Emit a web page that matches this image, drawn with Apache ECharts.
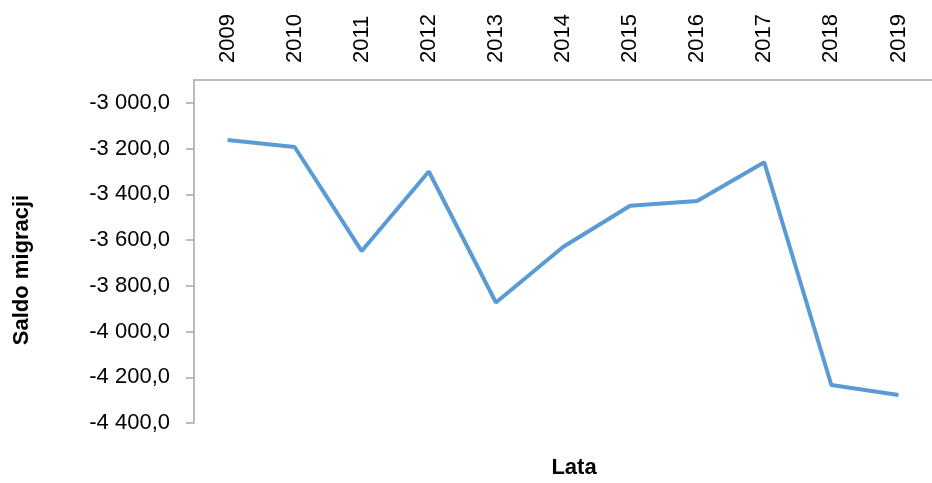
<!DOCTYPE html>
<html>
<head>
<meta charset="utf-8">
<script src="https://cdn.jsdelivr.net/npm/echarts@6/dist/echarts.min.js"></script>
<style>
html,body{margin:0;padding:0;background:#fff;}
#chart{width:932px;height:483px;}
</style>
</head>
<body>
<div id="chart"></div>
<script>
const years = ['2009','2010','2011','2012','2013','2014','2015','2016','2017','2018','2019'];
const saldo = [-3162, -3193, -3648, -3300, -3873, -3630, -3450, -3429, -3260, -4234, -4278];
const yTicks = [-4400, -4200, -4000, -3800, -3600, -3400, -3200, -3000];
const yMin = -4400, yMax = -2900, yStep = 200;
const xTitle = 'Lata';
const yTitle = 'Saldo migracji';

function fmt(v){
  const neg = v < 0;
  const a = Math.abs(v);
  const s = Math.round(a).toString().replace(/\B(?=(\d{3})+(?!\d))/g, ' ');
  return (neg ? '-' : '') + s + ',0';
}

const chart = echarts.init(document.getElementById('chart'), null, {renderer:'canvas'});
const font = 'Liberation Sans, Arial, sans-serif';
chart.setOption({
  animation:false,
  grid:{left:194, top:80, right:-10, bottom:60, containLabel:false},
  xAxis:{
    type:'category', position:'top', data:years, boundaryGap:true,
    axisLine:{lineStyle:{color:'#a6a6a6', width:1.5}},
    axisTick:{inside:true, length:8, lineStyle:{color:'#a6a6a6', width:1.5}},
    axisLabel:{rotate:-90, margin:17, color:'#000', fontSize:22, fontFamily:font, interval:0},
    splitLine:{show:false}
  },
  yAxis:{
    type:'value', min:yMin, max:yMax, interval:yStep,
    axisLine:{show:true, lineStyle:{color:'#a6a6a6', width:1.5}},
    axisTick:{show:true, length:8, customValues:yTicks, lineStyle:{color:'#a6a6a6', width:1.5}},
    axisLabel:{margin:24, color:'#000', fontSize:22, fontFamily:font, customValues:yTicks,
      formatter:function(v){ return v === yMax ? '' : fmt(v); }},
    splitLine:{show:false}
  },
  graphic:[
    {type:'text', x:574, y:457, style:{text:xTitle, font:'bold 22px '+font, fill:'#000', align:'center', verticalAlign:'top'}},
    {type:'text', rotation:Math.PI/2, x:11, y:270, style:{text:yTitle, font:'bold 22px '+font, fill:'#000', align:'center', verticalAlign:'top'}}
  ],
  series:[{
    type:'line', data:saldo, symbol:'none',
    lineStyle:{color:'#5b9bd5', width:4}
  }]
});
</script>
</body>
</html>
